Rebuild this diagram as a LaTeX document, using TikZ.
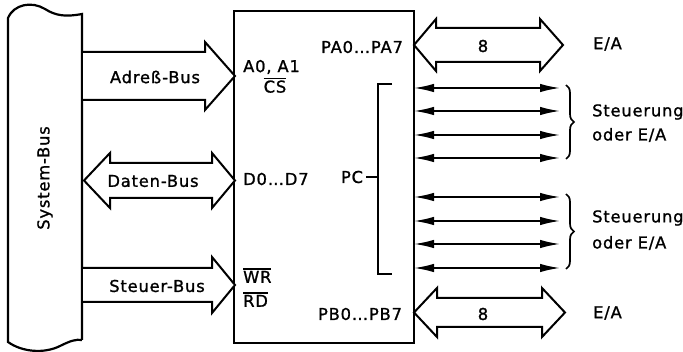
\documentclass[tikz,border=0pt]{standalone}
\usepackage{fontspec}
\setmainfont[LetterSpace=5,FakeBold=1.2]{DejaVu Sans}
\usetikzlibrary{arrows.meta,decorations.pathreplacing}
\newcommand\ovl[1]{\leavevmode\vbox{\hrule height 1.5pt\kern 1.2pt\hbox{#1}}}
\begin{document}
\begin{tikzpicture}[x=1pt,y=-1pt,
  every node/.style={inner sep=0pt,font=\fontsize{16.3}{20}\selectfont},
  thick line/.style={line width=2.2pt,line join=miter},
  fat/.style={line width=2pt,line join=miter,fill=white},
  thin arrow/.style={line width=1.7pt,{Latex[length=20pt,width=8.5pt]}-{Latex[length=20pt,width=8.5pt]}},
  bracestyle/.style={line width=1.7pt,decorate,decoration={brace,amplitude=8pt}},
  lbl/.style={anchor=west,align=left}]
\useasboundingbox (0,0) rectangle (683,352);

% System-Bus box
\draw[thick line] (82,340) -- (82,14) .. controls (66,17) and (56,16) .. (45,9)
   .. controls (32,1) and (14,4) .. (8,18) -- (8,342)
   .. controls (22,352) and (44,354) .. (60,346) .. controls (70,341) and (76,339) .. (82,340);
\node[rotate=90] (sysbus) at (45,178) {System-Bus};

% chip
\draw[thick line] (234,11) rectangle (414,343);

% fat arrows left
\draw[fat] (83,52) -- (205,52) -- (205,42) -- (235,76) -- (205,110) -- (205,100) -- (83,100);
\node (adr) at (155,77) {Adreß-Bus};

\draw[fat] (110,163) -- (212,163) -- (212,153) -- (235,180.5) -- (212,208) -- (212,198)
   -- (110,198) -- (110,208) -- (84,180.5) -- (110,153) -- cycle;
\node (dat) at (153,181) {Daten-Bus};

\draw[fat] (83,268) -- (212,268) -- (212,257) -- (235,285) -- (212,313) -- (212,302) -- (83,302);
\node (steu) at (157,286) {Steuer-Bus};

% fat arrows right
\draw[fat] (436,28) -- (540,28) -- (540,19) -- (563,45) -- (540,71) -- (540,62)
   -- (436,62) -- (436,71) -- (414,45) -- (436,19) -- cycle;
\node (n8a) at (483,46) {8};
\node[lbl] (ea1) at (593,44) {E/A};

\draw[fat] (437,298) -- (542,298) -- (542,288) -- (565,312.5) -- (542,337) -- (542,327)
   -- (437,327) -- (437,337) -- (414,312.5) -- (437,288) -- cycle;
\node (n8b) at (483,314) {8};
\node[lbl] (ea2) at (593,313) {E/A};

% chip labels
\node[lbl] (a0) at (243,67) {A0, A1};
\node[anchor=south] (cs) at (275,93) {\ovl{CS}};
\node[lbl,anchor=south west] (wr) at (243,283) {\ovl{WR}};
\node[lbl,anchor=south west] (rd) at (243,307) {\ovl{RD}};
\node[lbl] (d0) at (243,179) {D0…D7};
\node (pa) at (362,47) {PA0…PA7};
\node (pb) at (360,314) {PB0…PB7};
\node (pc) at (352,177) {PC};

% PC bracket
\coordinate (pctop) at (392,84);
\coordinate (pcbot) at (392,274);
\draw[line width=1.7pt] (pctop) -- (378,84) -- (378,274) -- (pcbot);
\draw[line width=1.7pt] (pc.east) ++(3,0) -- (378,177);

% thin arrows
\foreach \y [count=\i] in {88,111,135,158,197,221,244,268}{
  \coordinate (L\i) at (414,\y);
  \coordinate (R\i) at (560,\y);
  \draw[thin arrow] (L\i) -- (R\i);
}

% braces
\draw[bracestyle] (566,85) -- (566,159);
\draw[bracestyle] (566,194) -- (566,269);
\node[lbl] (st1) at (592,112) {Steuerung};
\node[lbl] (oe1) at (592,135) {oder E/A};
\node[lbl] (st2) at (592,218) {Steuerung};
\node[lbl] (oe2) at (592,243) {oder E/A};
\end{tikzpicture}
\end{document}
